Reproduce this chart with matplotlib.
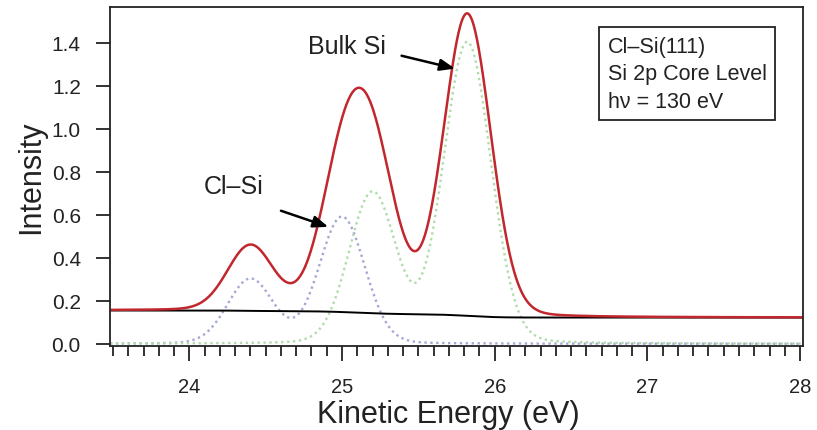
import numpy as np
import matplotlib
matplotlib.use("Agg")
import matplotlib.pyplot as plt
from matplotlib.ticker import MultipleLocator

plt.rcParams['font.family'] = ['Liberation Sans', 'DejaVu Sans']

# Si 2p fit components (spin-orbit doublets)
cl_centres = [24.40, 25.00]      # Cl-Si surface component
cl_heights = [0.30, 0.59]
cl_sigma = 0.15
si_centres = [25.20, 25.82]      # bulk Si component
si_heights = [0.70, 1.40]
si_sigma = 0.155
lorentz_frac = 0.08

# Shirley background end levels
bg_left = 0.155
bg_right = 0.122

energy = np.linspace(23.48, 28.02, 1200)


def pvoigt(x, c, h, s, eta):
    g = np.exp(-(x - c) ** 2 / (2 * s ** 2))
    hw = 1.1774 * s
    l = 1.0 / (1.0 + ((x - c) / hw) ** 2)
    return h * ((1 - eta) * g + eta * l)


cl_comp = sum(pvoigt(energy, c, h, cl_sigma, lorentz_frac)
              for c, h in zip(cl_centres, cl_heights))
si_comp = sum(pvoigt(energy, c, h, si_sigma, lorentz_frac)
              for c, h in zip(si_centres, si_heights))
peaks = cl_comp + si_comp

# Shirley step: background follows the peak area lying at higher kinetic energy
area_right = np.cumsum(peaks[::-1])[::-1]
background = bg_right + (bg_left - bg_right) * area_right / area_right[0]
fit = background + peaks

fig = plt.figure(figsize=(8.17, 4.31), dpi=100)
ax = fig.add_axes([0.1346, 0.195, 0.8484, 0.7866])

ax.plot(energy, cl_comp, color='#a4a8d4', lw=1.7, ls=(0, (1, 1.5)))
ax.plot(energy, si_comp, color='#b0dbaa', lw=1.7, ls=(0, (1, 1.5)))
ax.plot(energy, background, color='black', lw=1.4)
ax.plot(energy, fit, color='#c1272d', lw=1.8)

ax.set_xlim(23.48, 28.02)
ax.set_ylim(-0.01, 1.567)
ax.xaxis.set_major_locator(MultipleLocator(1))
ax.xaxis.set_minor_locator(MultipleLocator(0.1))
ax.set_yticks([0.0, 0.2, 0.4, 0.6, 0.8, 1.0, 1.2, 1.4])
ax.yaxis.set_major_formatter(matplotlib.ticker.FormatStrFormatter('%.1f'))

ax.tick_params(axis='x', which='major', direction='out', length=11, width=1.3,
               pad=11, labelsize=14.5, colors='#222222')
ax.tick_params(axis='x', which='minor', direction='out', length=7, width=1.3,
               colors='#222222')
ax.tick_params(axis='y', which='major', direction='out', length=10, width=1.3,
               pad=11, labelsize=15, colors='#222222')
for sp in ax.spines.values():
    sp.set_linewidth(1.3)
    sp.set_color('#222222')

ax.set_xlabel('Kinetic Energy (eV)', fontsize=22, labelpad=0, color='#222222')
ax.xaxis.set_label_coords(0.488, -0.155)
ax.set_ylabel('Intensity', fontsize=22, labelpad=4, color='#222222')

ax.annotate('', xy=(25.74, 1.28), xytext=(25.39, 1.34),
            arrowprops=dict(arrowstyle='-|>,head_length=0.9,head_width=0.35',
                            color='black', lw=1.8, shrinkA=0, shrinkB=0))
ax.text(25.03, 1.385, 'Bulk Si', fontsize=18, ha='center', va='center',
        color='#222222')

ax.annotate('', xy=(24.91, 0.544), xytext=(24.60, 0.619),
            arrowprops=dict(arrowstyle='-|>,head_length=0.9,head_width=0.35',
                            color='black', lw=1.8, shrinkA=0, shrinkB=0))
ax.text(24.29, 0.735, 'Cl\u2013Si', fontsize=18, ha='center', va='center',
        color='#222222')

ax.text(0.718, 0.915, 'Cl\u2013Si(111)\nSi 2p Core Level\nh\u03bd = 130 eV',
        transform=ax.transAxes, fontsize=15.5, va='top', ha='left',
        linespacing=1.4, color='#222222',
        bbox=dict(boxstyle='square,pad=0.4', fc='white', ec='#222222', lw=1.3))

fig.savefig('out.png', dpi=100)
